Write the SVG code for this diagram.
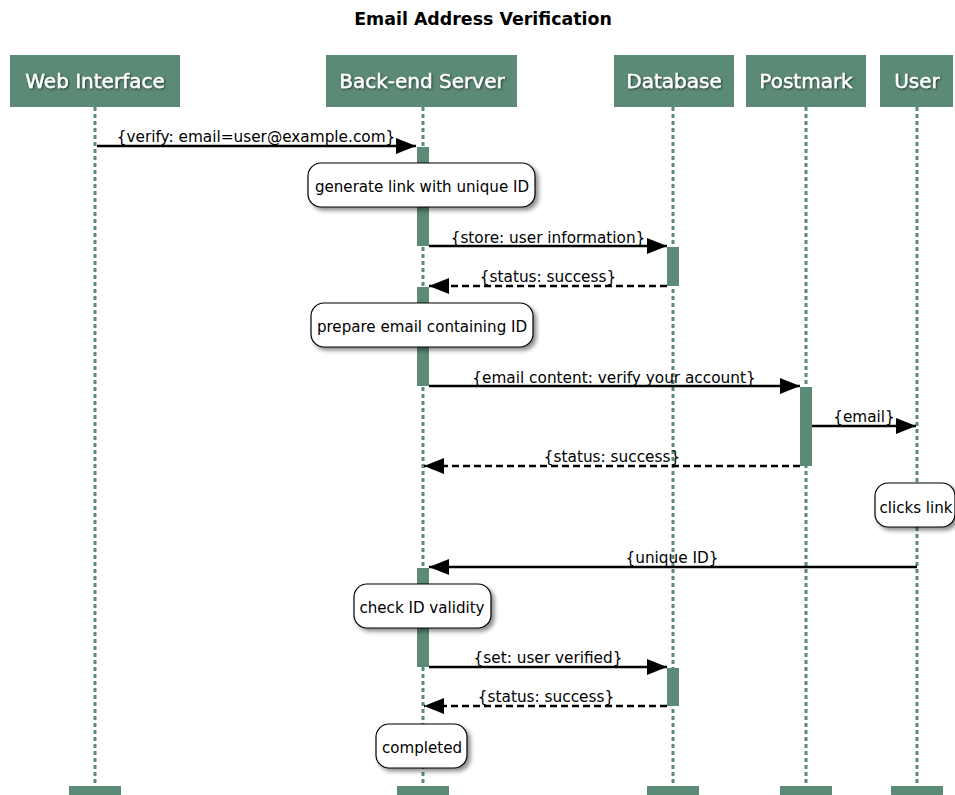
<svg xmlns="http://www.w3.org/2000/svg" width="955" height="795" viewBox="0 0 955 795">
<style>
.actor rect{fill:#5B8A76;}
.actor text{fill:#fff;font-family:"DejaVu Sans",sans-serif;font-size:20px;text-anchor:middle;stroke:#fff;stroke-width:0.4;filter:url(#tsh);}
.life{stroke:#5B8A76;stroke-width:3;stroke-dasharray:4,3;fill:none;}
.act{fill:#5B8A76;}
.msg{stroke:#000;stroke-width:2.5;fill:none;}
.dash{stroke-dasharray:7,4;}
.lbl{font-family:"DejaVu Sans",sans-serif;font-size:15.3px;text-anchor:middle;fill:#000;}
.note rect{fill:#fff;stroke:#000;stroke-width:1.2;filter:url(#sh);}
.note text{font-family:"DejaVu Sans",sans-serif;font-size:15.1px;text-anchor:middle;fill:#000;}
.title{font-family:"DejaVu Sans",sans-serif;font-size:17.4px;font-weight:bold;text-anchor:middle;}
</style>
<defs>
<marker id="ah" markerWidth="20" markerHeight="16" refX="20" refY="8" orient="auto" markerUnits="userSpaceOnUse">
<path d="M0,0 L20,8 L0,16 Z" fill="#000"/>
</marker>
<filter id="sh" x="-20%" y="-30%" width="140%" height="170%">
<feDropShadow dx="3" dy="3" stdDeviation="2" flood-color="#000" flood-opacity="0.45"/>
</filter>
<filter id="tsh" x="-10%" y="-30%" width="120%" height="160%">
<feDropShadow dx="1" dy="1" stdDeviation="0.8" flood-color="#000" flood-opacity="0.6"/>
</filter>
</defs>
<rect width="955" height="795" fill="#fff"/>
<text class="title" x="483" y="25">Email Address Verification</text>

<g id="lifelines">
<line class="life" x1="95" y1="107" x2="95" y2="786"/>
<line class="life" x1="423" y1="107" x2="423" y2="786"/>
<line class="life" x1="673" y1="107" x2="673" y2="786"/>
<line class="life" x1="806" y1="107" x2="806" y2="786"/>
<line class="life" x1="917" y1="107" x2="917" y2="786"/>
</g>

<g id="actor-web" class="actor"><rect x="10" y="55" width="170" height="52"/><text x="95" y="88">Web Interface</text><rect x="69" y="786" width="52" height="9"/></g>
<g id="actor-backend" class="actor"><rect x="326" y="55" width="191" height="52"/><text x="422" y="88">Back-end Server</text><rect x="397" y="786" width="52" height="9"/></g>
<g id="actor-db" class="actor"><rect x="614" y="55" width="120" height="52"/><text x="674" y="88">Database</text><rect x="647" y="786" width="52" height="9"/></g>
<g id="actor-postmark" class="actor"><rect x="746" y="55" width="120" height="52"/><text x="806" y="88">Postmark</text><rect x="780" y="786" width="52" height="9"/></g>
<g id="actor-user" class="actor"><rect x="880" y="55" width="73" height="52"/><text x="917" y="88">User</text><rect x="891" y="786" width="52" height="9"/></g>

<g id="activations">
<rect class="act" x="417" y="147" width="12" height="99"/>
<rect class="act" x="667" y="247" width="12" height="39"/>
<rect class="act" x="417" y="287" width="12" height="99"/>
<rect class="act" x="800" y="387" width="12" height="79"/>
<rect class="act" x="417" y="568" width="12" height="99"/>
<rect class="act" x="667" y="668" width="12" height="38"/>
</g>

<g id="connectors">
<line class="msg" x1="97" y1="146" x2="416" y2="146" marker-end="url(#ah)"/>
<text class="lbl" x="256" y="141.5">{verify: email=user@example.com}</text>
<line class="msg" x1="429" y1="246" x2="667" y2="246" marker-end="url(#ah)"/>
<text class="lbl" x="548" y="242.5">{store: user information}</text>
<line class="msg dash" x1="667" y1="286" x2="429" y2="286" marker-end="url(#ah)"/>
<text class="lbl" x="548" y="281.5">{status: success}</text>
<line class="msg" x1="429" y1="386" x2="800" y2="386" marker-end="url(#ah)"/>
<text class="lbl" x="614" y="382.5">{email content: verify your account}</text>
<line class="msg" x1="812" y1="426" x2="916" y2="426" marker-end="url(#ah)"/>
<text class="lbl" x="864" y="421.5">{email}</text>
<line class="msg dash" x1="800" y1="466" x2="424" y2="466" marker-end="url(#ah)"/>
<text class="lbl" x="612" y="461.5">{status: success}</text>
<line class="msg" x1="917" y1="567" x2="429" y2="567" marker-end="url(#ah)"/>
<text class="lbl" x="672" y="562.5">{unique ID}</text>
<line class="msg" x1="429" y1="667" x2="667" y2="667" marker-end="url(#ah)"/>
<text class="lbl" x="548" y="662.5">{set: user verified}</text>
<line class="msg dash" x1="667" y1="706" x2="424" y2="706" marker-end="url(#ah)"/>
<text class="lbl" x="546" y="701.5">{status: success}</text>
</g>

<g id="note-generate" class="note"><rect x="308" y="163" width="227" height="44" rx="13"/><text x="422" y="191.5">generate link with unique ID</text></g>
<g id="note-prepare" class="note"><rect x="311" y="303" width="222" height="44" rx="13"/><text x="422" y="331.5">prepare email containing ID</text></g>
<g id="note-clicks" class="note"><rect x="875" y="483" width="80" height="44" rx="13"/><text x="916" y="512.5">clicks link</text></g>
<g id="note-check" class="note"><rect x="354" y="584" width="137" height="44" rx="13"/><text x="422" y="612.5">check ID validity</text></g>
<g id="note-completed" class="note"><rect x="376" y="724" width="91" height="44" rx="13"/><text x="422" y="752.5">completed</text></g>
</svg>
